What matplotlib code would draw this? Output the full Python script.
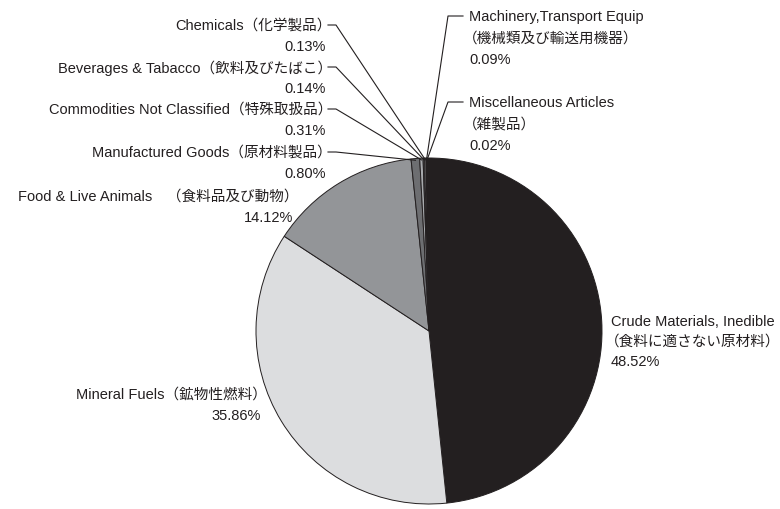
import matplotlib
matplotlib.use("Agg")
import matplotlib.pyplot as plt
from matplotlib.lines import Line2D
import numpy as np

plt.rcParams["font.family"] = ["Liberation Sans Narrow", "Liberation Sans", "Noto Sans CJK JP"]

# 品目別構成比（時計回り、上から）
categories = [
    "Crude Materials, Inedible",
    "Mineral Fuels",
    "Food & Live Animals",
    "Manufactured Goods",
    "Commodities Not Classified",
    "Beverages & Tabacco",
    "Chemicals",
    "Machinery,Transport Equip",
    "Miscellaneous Articles",
]
jp_names = ["食料に適さない原材料", "鉱物性燃料", "食料品及び動物", "原材料製品",
            "特殊取扱品", "飲料及びたばこ", "化学製品", "機械類及び輸送用機器", "雑製品"]
shares = [48.52, 35.86, 14.12, 0.80, 0.31, 0.14, 0.13, 0.09, 0.02]

COLORS = ["#231f20", "#dcdddf", "#939598", "#6d6e71", "#a7a9ac",
          "#58595b", "#bcbec0", "#808285", "#d1d3d4"]
TXT = "#231f20"

W, H = 780, 510
fig = plt.figure(figsize=(W / 100, H / 100), dpi=100)

# 円の中心と半径（ピクセル、上原点）
cx, cy, r = 429, 332, 173
ax = fig.add_axes([(cx - r) / W, (H - cy - r) / H, 2 * r / W, 2 * r / H])
wedges, _ = ax.pie(shares, colors=COLORS, startangle=90.6, counterclock=False,
                   radius=1.0, wedgeprops=dict(edgecolor=TXT, linewidth=0.7))
ax.set_xlim(-1, 1)
ax.set_ylim(-1, 1)
ax.set_aspect("equal")
ax.axis("off")


def fpx(x, y):
    """上原点のピクセル -> figure fraction"""
    return x / W, 1 - y / H


def edge_px(i, rr=0.99):
    w = wedges[i]
    a = np.deg2rad((w.theta1 + w.theta2) / 2)
    p = ax.transData.transform((rr * np.cos(a), rr * np.sin(a)))
    return p[0], H - p[1]


def label(lines, x, y0, ha, dy=21.3):
    # 全角括弧の余白ぶんずらす
    for k, s in enumerate(lines):
        xx = x
        if ha == "right" and s.endswith("）"):
            xx += 6
        if ha == "left" and s.startswith("（"):
            xx -= 6
        fx, fy = fpx(xx, y0 + k * dy)
        fig.text(fx, fy, s, ha=ha, va="center", fontsize=10.5, color=TXT)


def leader(pts):
    xs = [p[0] / W for p in pts]
    ys = [1 - p[1] / H for p in pts]
    fig.add_artist(Line2D(xs, ys, color=TXT, lw=0.8, transform=fig.transFigure))


pct = [f"{v:.2f}%" for v in shares]

# 左側の小さい品目（引出線あり）
left_small = [(6, 26), (5, 68), (4, 110), (3, 153)]
for i, y in left_small:
    label([f"{categories[i]}（{jp_names[i]}）", pct[i]], 326, y, "right")
    leader([(328, y), (336, y), edge_px(i)])

# 右上の小さい品目
right_small = [(7, 17), (8, 103)]
for i, y in right_small:
    label([categories[i], f"（{jp_names[i]}）", pct[i]], 469, y, "left")
    leader([(463, y), (448, y), edge_px(i)])

# 大きい品目（引出線なし）
label([f"{categories[2]}　（{jp_names[2]}）", pct[2]], 293, 197, "right", dy=21.5)
label([f"{categories[1]}（{jp_names[1]}）", pct[1]], 261, 395, "right", dy=21)
label([categories[0], f"（{jp_names[0]}）", pct[0]], 611, 322, "left", dy=20)

fig.savefig("out.png", dpi=100)
